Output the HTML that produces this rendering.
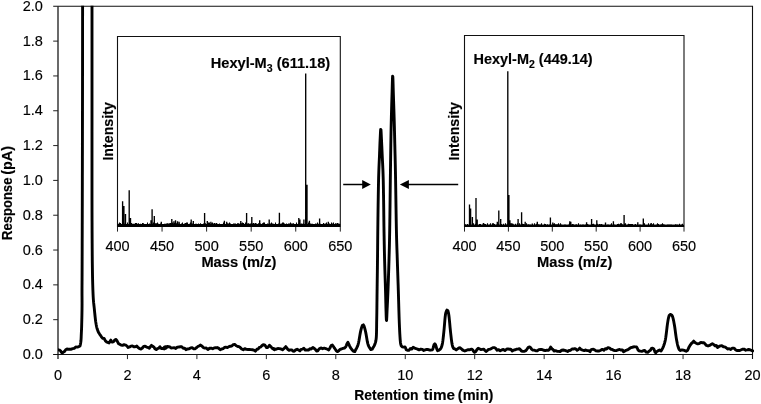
<!DOCTYPE html><html><head><meta charset="utf-8"><title>Chromatogram</title>
<style>html,body{margin:0;padding:0;background:#fff;overflow:hidden}svg{display:block}text{font-family:"Liberation Sans",Arial,sans-serif;fill:#000;stroke:#000;stroke-width:.15px}.b{font-weight:bold}</style></head><body>
<svg width="761" height="404" viewBox="0 0 761 404">
<rect width="761" height="404" fill="#fff"/>
<defs><clipPath id="cp"><rect x="58.0" y="5.8" width="696.0" height="351.2"/></clipPath></defs>
<path d="M53.2 6.3H752.5V359.0" fill="none" stroke="#111" stroke-width="1.1"/>
<path d="M58.0 6.3V359.0" fill="none" stroke="#222" stroke-width="1.35"/>
<path d="M53.1 354.5H752.5" fill="none" stroke="#111" stroke-width="1"/>
<text x="42.8" y="359.00" font-size="14.5" text-anchor="end">0.0</text>
<path d="M53.2 319.68H58.0" stroke="#222" stroke-width="1"/>
<text x="42.8" y="324.18" font-size="14.5" text-anchor="end">0.2</text>
<path d="M53.2 284.86H58.0" stroke="#222" stroke-width="1"/>
<text x="42.8" y="289.36" font-size="14.5" text-anchor="end">0.4</text>
<path d="M53.2 250.04H58.0" stroke="#222" stroke-width="1"/>
<text x="42.8" y="254.54" font-size="14.5" text-anchor="end">0.6</text>
<path d="M53.2 215.22H58.0" stroke="#222" stroke-width="1"/>
<text x="42.8" y="219.72" font-size="14.5" text-anchor="end">0.8</text>
<path d="M53.2 180.40H58.0" stroke="#222" stroke-width="1"/>
<text x="42.8" y="184.90" font-size="14.5" text-anchor="end">1.0</text>
<path d="M53.2 145.58H58.0" stroke="#222" stroke-width="1"/>
<text x="42.8" y="150.08" font-size="14.5" text-anchor="end">1.2</text>
<path d="M53.2 110.76H58.0" stroke="#222" stroke-width="1"/>
<text x="42.8" y="115.26" font-size="14.5" text-anchor="end">1.4</text>
<path d="M53.2 75.94H58.0" stroke="#222" stroke-width="1"/>
<text x="42.8" y="80.44" font-size="14.5" text-anchor="end">1.6</text>
<path d="M53.2 41.12H58.0" stroke="#222" stroke-width="1"/>
<text x="42.8" y="45.62" font-size="14.5" text-anchor="end">1.8</text>
<text x="42.8" y="10.80" font-size="14.5" text-anchor="end">2.0</text>
<text x="58.00" y="379.5" font-size="14.5" text-anchor="middle">0</text>
<path d="M127.45 354.5V359.1" stroke="#222" stroke-width="1"/>
<text x="127.45" y="379.5" font-size="14.5" text-anchor="middle">2</text>
<path d="M196.90 354.5V359.1" stroke="#222" stroke-width="1"/>
<text x="196.90" y="379.5" font-size="14.5" text-anchor="middle">4</text>
<path d="M266.35 354.5V359.1" stroke="#222" stroke-width="1"/>
<text x="266.35" y="379.5" font-size="14.5" text-anchor="middle">6</text>
<path d="M335.80 354.5V359.1" stroke="#222" stroke-width="1"/>
<text x="335.80" y="379.5" font-size="14.5" text-anchor="middle">8</text>
<path d="M405.25 354.5V359.1" stroke="#222" stroke-width="1"/>
<text x="405.25" y="379.5" font-size="14.5" text-anchor="middle">10</text>
<path d="M474.70 354.5V359.1" stroke="#222" stroke-width="1"/>
<text x="474.70" y="379.5" font-size="14.5" text-anchor="middle">12</text>
<path d="M544.15 354.5V359.1" stroke="#222" stroke-width="1"/>
<text x="544.15" y="379.5" font-size="14.5" text-anchor="middle">14</text>
<path d="M613.60 354.5V359.1" stroke="#222" stroke-width="1"/>
<text x="613.60" y="379.5" font-size="14.5" text-anchor="middle">16</text>
<path d="M683.05 354.5V359.1" stroke="#222" stroke-width="1"/>
<text x="683.05" y="379.5" font-size="14.5" text-anchor="middle">18</text>
<text x="752.50" y="379.5" font-size="14.5" text-anchor="middle">20</text>
<text class="b" y="399.9" font-size="14.5"><tspan x="354.3" textLength="64.2" lengthAdjust="spacingAndGlyphs">Retention</tspan> <tspan x="423.6" textLength="31.4" lengthAdjust="spacingAndGlyphs">time</tspan> <tspan x="457.8" textLength="35.6" lengthAdjust="spacingAndGlyphs">(min)</tspan></text>
<text class="b" transform="translate(11.8,240) rotate(-90)" y="0" font-size="14.5"><tspan x="0" textLength="62.4" lengthAdjust="spacingAndGlyphs">Response</tspan> <tspan x="65.2" textLength="29" lengthAdjust="spacingAndGlyphs">(pA)</tspan></text>
<path clip-path="url(#cp)" d="M57.79 349.74L59.36 350.05L60.64 350.88L61.35 352.33L62.40 353.00L63.54 351.96L64.55 351.39L65.69 349.73L66.99 348.97L68.45 349.32L69.91 349.27L71.31 349.18L72.70 348.65L74.19 348.42L75.76 346.94L77.36 347.09L78.92 346.56L79.95 345.97L80.39 344.56L80.70 342.76L80.93 341.05L81.05 339.52L81.15 337.86L81.22 336.12L81.29 334.40L81.37 332.76L81.46 330.88L81.55 329.02L81.61 327.41L81.67 325.41L81.71 323.79L81.76 321.92L81.81 319.86L81.86 317.66L81.91 315.36L81.95 313.02L81.99 310.69L82.02 308.41L82.04 306.24L82.05 304.11L82.05 301.99L82.04 299.88L82.03 297.76L82.01 295.61L82.00 293.41L82.00 291.16L82.00 288.92L82.01 287.13L82.02 285.63L82.03 284.13L82.04 282.36L82.06 280.03L82.06 278.58L82.07 276.88L82.08 274.91L82.09 272.63L82.10 270.00L82.11 267.05L82.12 263.85L82.13 260.40L82.14 256.72L82.16 252.82L82.17 248.73L82.18 244.45L82.19 240.00L82.21 235.39L82.22 230.64L82.23 225.77L82.25 220.78L82.26 215.70L82.27 210.53L82.29 205.29L82.30 200.00L82.31 194.56L82.33 188.89L82.34 183.02L82.35 176.97L82.37 170.76L82.38 164.43L82.39 158.00L82.41 151.50L82.42 144.95L82.43 138.38L82.44 131.81L82.46 125.28L82.47 118.81L82.48 112.42L82.49 106.14L82.50 100.00L82.51 93.85L82.52 87.57L82.52 81.18L82.53 74.72L82.54 68.23L82.54 61.76L82.55 55.34L82.56 49.00L82.56 42.79L82.57 36.74L82.57 30.89L82.58 25.28L82.58 19.95L82.59 14.93L82.59 10.27L82.60 6.00L82.59 2.09L82.55 -1.52L82.49 -4.85L82.41 -7.92L82.32 -10.74L82.23 -13.33L82.15 -15.70L82.08 -17.88L82.02 -19.86L81.99 -21.69L81.99 -23.36L82.03 -24.89L82.25 -27.62L82.70 -30.00L83.49 -31.97L84.60 -33.38L85.92 -34.22L87.36 -34.50L88.79 -34.22L90.11 -33.38L91.22 -31.97L92.00 -30.00L92.45 -27.62L92.65 -24.89L92.69 -23.36L92.68 -21.69L92.64 -19.86L92.58 -17.88L92.50 -15.70L92.41 -13.33L92.31 -10.74L92.22 -7.92L92.13 -4.85L92.06 -1.52L92.02 2.09L92.00 6.00L92.00 10.27L92.00 14.93L92.00 19.95L92.00 25.28L92.00 30.89L92.00 36.74L92.00 42.79L92.00 49.00L92.00 55.34L92.00 61.76L92.00 68.23L92.00 74.72L92.00 81.18L92.00 87.57L92.00 93.85L92.00 100.00L92.00 106.18L92.00 112.55L92.00 119.09L92.00 125.75L91.99 132.49L91.99 139.26L91.99 146.03L91.99 152.75L91.99 159.39L91.99 165.90L91.99 172.24L91.99 178.38L91.99 184.26L91.99 189.85L91.99 195.11L92.00 200.00L92.01 204.54L92.01 208.81L92.02 212.83L92.03 216.60L92.04 220.16L92.06 223.51L92.07 226.68L92.08 229.69L92.09 232.55L92.11 235.28L92.12 237.90L92.14 240.43L92.15 242.89L92.17 245.29L92.18 247.65L92.20 250.00L92.22 252.27L92.23 254.39L92.25 256.38L92.27 258.24L92.28 259.99L92.30 261.65L92.32 263.21L92.34 264.69L92.38 267.46L92.42 270.04L92.46 272.52L92.50 275.00L92.54 277.39L92.59 279.57L92.64 281.58L92.69 283.44L92.74 285.18L92.79 286.84L92.84 288.43L92.90 290.00L92.96 291.51L93.04 293.58L93.13 295.48L93.22 297.24L93.32 298.91L93.44 300.52L93.58 302.21L93.74 303.69L93.95 305.47L94.16 307.32L94.32 308.92L94.51 310.79L94.71 312.86L94.93 315.02L95.16 317.20L95.40 319.30L95.64 321.23L95.89 322.90L96.13 324.34L96.50 326.22L96.88 327.86L97.30 329.32L97.95 331.12L98.76 332.82L99.72 334.33L100.73 335.65L101.72 337.29L102.84 338.35L104.13 338.51L105.41 340.94L106.55 341.93L107.70 342.45L109.03 342.97L109.92 341.50L110.84 340.15L111.68 341.98L112.85 342.01L113.76 341.55L114.56 340.27L115.80 339.39L116.86 340.47L117.73 342.08L118.61 343.69L119.70 344.24L121.05 345.05L122.53 345.35L124.03 344.65L125.52 345.07L126.83 345.88L128.18 347.44L129.63 346.91L130.86 346.13L132.43 345.95L133.80 346.74L135.21 346.74L136.76 346.07L138.25 347.64L139.57 348.69L140.91 349.04L142.38 348.01L143.67 346.39L145.15 346.20L146.56 347.04L147.95 347.44L149.36 348.26L150.35 346.74L151.45 345.38L152.76 346.39L153.87 346.94L154.93 348.82L156.24 349.63L157.68 348.51L158.82 348.07L159.96 346.71L161.24 348.53L162.55 348.48L164.31 348.92L166.01 347.54L167.55 346.55L166.33 347.89L164.62 348.72L163.20 348.37L164.32 347.17L165.82 346.60L167.31 346.84L168.75 346.71L169.81 346.91L171.04 348.01L172.73 347.91L174.30 347.67L175.77 348.52L177.31 347.08L178.75 347.06L180.21 346.77L181.74 346.80L183.20 348.23L184.65 348.10L185.93 349.69L187.60 348.95L189.08 348.84L190.64 347.89L192.15 347.67L193.70 348.83L195.21 348.69L196.74 347.53L197.85 346.51L198.97 345.94L200.54 345.06L202.12 346.22L203.35 347.69L204.83 348.12L206.27 347.91L207.83 349.47L209.59 348.21L211.14 348.11L212.65 348.75L214.16 347.89L215.65 347.72L217.31 347.57L218.80 348.36L220.24 349.74L221.69 348.99L223.13 348.61L224.40 347.52L225.83 347.19L227.40 347.63L228.88 346.61L230.28 346.28L231.75 346.02L233.25 344.64L234.73 344.45L236.25 345.77L237.76 346.45L239.02 346.64L240.22 347.48L241.68 349.05L243.21 349.79L244.74 348.60L246.32 349.38L247.92 349.47L249.44 349.45L250.94 349.61L252.42 349.72L253.90 350.07L255.38 351.23L256.86 349.28L258.09 349.06L259.33 347.43L260.60 347.10L261.83 345.74L263.19 344.81L264.65 344.95L265.95 346.61L266.60 347.63L267.64 347.45L268.49 346.66L269.45 345.17L270.71 346.41L271.71 347.72L272.78 348.80L274.23 349.60L275.81 349.33L276.02 348.88L274.54 349.84L273.07 348.75L273.20 348.45L274.74 348.83L276.31 349.10L277.81 348.50L279.41 348.66L281.04 348.98L282.50 349.76L283.85 348.69L284.74 347.84L285.77 346.61L286.77 347.84L287.65 349.24L289.09 350.25L290.54 349.92L291.92 349.83L292.89 351.04L294.21 351.30L295.65 349.90L297.14 349.29L298.55 350.01L299.91 350.91L301.12 349.43L302.53 349.08L303.91 348.33L305.29 350.12L306.87 350.00L308.45 350.06L309.83 348.79L311.21 349.00L312.81 347.43L314.22 348.47L315.58 349.60L316.55 351.05L317.86 350.79L318.85 349.26L319.87 348.33L321.26 347.98L322.64 348.69L324.23 348.21L325.85 348.64L327.42 349.25L328.70 349.89L329.79 348.29L330.46 346.88L331.14 345.56L332.36 344.98L333.45 346.50L334.34 347.93L335.28 349.26L336.11 350.55L337.39 351.64L338.77 350.80L339.99 349.39L341.41 349.01L342.99 348.34L344.45 348.01L345.71 346.98L346.35 345.47L346.96 343.82L347.91 342.30L348.86 344.40L349.55 345.91L350.26 347.32L351.22 348.72L352.25 350.10L353.42 351.37L354.83 351.52L355.82 349.41L356.70 347.95L357.44 346.40L358.03 344.71L358.48 343.05L358.92 340.86L359.22 339.17L359.51 337.40L359.81 335.62L360.10 333.92L360.40 332.36L360.84 330.45L361.29 328.72L361.73 327.16L362.32 325.56L363.36 324.87L364.10 326.28L364.69 328.18L365.13 329.86L365.57 331.67L365.87 333.13L366.17 334.78L366.46 336.55L366.76 338.35L367.05 340.09L367.35 341.69L367.79 343.66L368.24 345.10L368.83 346.53L369.71 347.91L370.86 349.59L372.17 349.17L373.15 347.50L374.12 345.93L374.85 344.37L375.50 342.41L375.86 340.86L376.12 339.09L376.31 337.11L376.43 334.94L376.51 332.59L376.56 330.07L376.60 327.38L376.63 324.53L376.65 323.06L376.67 321.55L376.70 320.00L376.73 318.40L376.76 316.73L376.79 314.99L376.82 313.20L376.85 311.36L376.87 309.48L376.90 307.57L376.92 305.62L376.94 303.66L376.96 301.69L376.99 299.71L377.01 297.73L377.03 295.77L377.05 293.82L377.08 291.89L377.10 290.00L377.13 288.12L377.15 286.25L377.18 284.38L377.20 282.50L377.23 280.62L377.25 278.75L377.28 276.88L377.31 275.00L377.33 273.12L377.36 271.25L377.38 269.38L377.41 267.50L377.43 265.62L377.45 263.75L377.48 261.88L377.50 260.00L377.52 258.12L377.54 256.25L377.56 254.38L377.58 252.50L377.60 250.62L377.62 248.75L377.63 246.88L377.65 245.00L377.67 243.12L377.68 241.25L377.70 239.38L377.72 237.50L377.74 235.62L377.76 233.75L377.78 231.88L377.80 230.00L377.82 228.12L377.84 226.22L377.87 224.30L377.89 222.38L377.91 220.46L377.94 218.53L377.96 216.61L377.99 214.69L378.01 212.78L378.04 210.88L378.06 209.01L378.09 207.15L378.12 205.32L378.14 203.51L378.17 201.74L378.20 200.00L378.23 198.29L378.26 196.60L378.28 194.93L378.31 193.28L378.34 191.65L378.37 190.04L378.40 188.45L378.42 186.88L378.46 185.32L378.49 183.79L378.52 182.28L378.55 180.78L378.59 179.31L378.62 177.85L378.70 175.00L378.79 172.23L378.88 169.53L378.99 166.91L379.09 164.38L379.20 161.91L379.31 159.53L379.41 157.23L379.50 155.00L379.58 152.86L379.66 150.81L379.74 148.85L379.81 146.96L379.88 145.13L379.95 143.37L380.02 141.66L380.10 140.00L380.18 138.26L380.27 136.39L380.36 134.50L380.44 132.71L380.53 131.12L380.67 129.37L380.98 129.85L381.11 131.88L381.19 133.58L381.28 135.44L381.37 137.33L381.46 139.15L381.54 140.83L381.63 142.51L381.71 144.25L381.80 146.04L381.88 147.89L381.97 149.82L382.06 151.83L382.15 153.92L382.25 156.10L382.36 158.37L382.48 160.71L382.60 163.13L382.72 165.63L382.84 168.21L382.95 170.87L383.05 173.60L383.14 176.42L383.22 179.31L383.26 180.78L383.29 182.28L383.32 183.79L383.35 185.32L383.38 186.88L383.41 188.45L383.44 190.04L383.46 191.65L383.49 193.28L383.52 194.93L383.55 196.60L383.57 198.29L383.60 200.00L383.63 201.74L383.65 203.51L383.68 205.32L383.70 207.15L383.73 209.01L383.75 210.88L383.77 212.78L383.79 214.69L383.82 216.61L383.84 218.53L383.86 220.46L383.89 222.38L383.91 224.30L383.94 226.22L383.97 228.12L384.00 230.00L384.03 231.88L384.06 233.75L384.10 235.62L384.13 237.50L384.16 239.38L384.20 241.25L384.23 243.12L384.27 245.00L384.31 246.88L384.34 248.75L384.38 250.62L384.42 252.50L384.47 254.38L384.51 256.25L384.55 258.12L384.60 260.00L384.65 261.89L384.70 263.82L384.76 265.77L384.81 267.73L384.87 269.71L384.93 271.69L384.99 273.66L385.06 275.62L385.12 277.57L385.18 279.48L385.24 281.36L385.30 283.20L385.35 284.99L385.40 286.73L385.45 288.40L385.50 290.00L385.54 291.54L385.58 293.04L385.62 294.50L385.69 297.29L385.75 299.93L385.80 302.41L385.86 304.75L385.91 306.95L385.97 309.02L386.03 310.97L386.09 312.93L386.15 314.84L386.21 316.62L386.27 318.19L386.37 320.01L386.60 320.43L386.70 318.88L386.81 316.62L386.89 314.84L386.97 312.93L387.05 310.97L387.15 309.02L387.25 306.95L387.36 304.75L387.47 302.41L387.58 299.93L387.70 297.29L387.82 294.50L387.88 293.04L387.94 291.54L388.00 290.00L388.06 288.40L388.12 286.73L388.19 284.99L388.25 283.20L388.32 281.36L388.38 279.48L388.45 277.57L388.51 275.62L388.58 273.66L388.64 271.69L388.71 269.71L388.77 267.73L388.83 265.77L388.89 263.82L388.95 261.89L389.00 260.00L389.05 258.17L389.10 256.42L389.15 254.73L389.20 253.09L389.24 251.46L389.28 249.85L389.33 248.22L389.37 246.56L389.41 244.86L389.45 243.08L389.49 241.22L389.53 239.26L389.57 237.17L389.61 234.95L389.66 232.56L389.70 230.00L389.74 227.21L389.79 224.18L389.83 220.95L389.88 217.54L389.93 213.99L389.97 210.33L390.02 206.59L390.06 202.81L390.11 199.02L390.15 195.26L390.20 191.55L390.24 187.93L390.28 184.43L390.32 181.09L390.36 177.93L390.40 175.00L390.44 172.24L390.47 169.57L390.51 166.99L390.54 164.49L390.57 162.08L390.61 159.75L390.64 157.50L390.67 155.31L390.70 153.20L390.73 151.15L390.76 149.16L390.79 147.23L390.82 145.35L390.84 143.52L390.87 141.74L390.90 140.00L390.93 138.35L390.95 136.82L391.00 134.06L391.04 131.62L391.09 129.38L391.13 127.21L391.18 125.00L391.24 122.64L391.30 120.00L391.37 117.08L391.41 115.54L391.45 113.97L391.50 112.37L391.54 110.75L391.59 109.11L391.63 107.46L391.68 105.82L391.72 104.18L391.77 102.57L391.82 100.97L391.86 99.41L391.91 97.89L391.96 96.42L392.04 93.56L392.09 92.04L392.13 90.46L392.18 88.85L392.22 87.22L392.26 85.61L392.31 84.04L392.35 82.52L392.44 79.79L392.52 77.59L392.61 76.13L392.83 76.76L392.92 78.61L393.00 81.10L393.09 84.04L393.13 85.61L393.17 87.22L393.22 88.85L393.26 90.46L393.31 92.04L393.35 93.56L393.45 96.42L393.50 97.89L393.55 99.41L393.60 100.97L393.65 102.57L393.71 104.18L393.76 105.82L393.81 107.46L393.87 109.11L393.92 110.75L393.97 112.37L394.02 113.97L394.07 115.54L394.11 117.08L394.16 118.56L394.24 121.36L394.31 123.85L394.37 126.12L394.42 128.29L394.48 130.48L394.53 132.81L394.59 135.39L394.66 138.35L394.70 140.00L394.74 141.74L394.78 143.52L394.83 145.35L394.88 147.23L394.92 149.16L394.97 151.15L395.02 153.20L395.08 155.31L395.13 157.50L395.18 159.75L395.23 162.08L395.29 164.49L395.34 166.99L395.39 169.57L395.45 172.24L395.50 175.00L395.55 177.93L395.61 181.09L395.66 184.43L395.72 187.93L395.77 191.55L395.83 195.26L395.89 199.02L395.94 202.81L396.00 206.59L396.06 210.33L396.12 213.99L396.17 217.54L396.23 220.95L396.29 224.18L396.34 227.21L396.40 230.00L396.46 232.56L396.51 234.95L396.57 237.17L396.62 239.26L396.68 241.22L396.73 243.08L396.79 244.86L396.84 246.56L396.90 248.22L396.96 249.85L397.01 251.46L397.07 253.09L397.13 254.73L397.18 256.42L397.24 258.17L397.30 260.00L397.36 261.88L397.42 263.75L397.48 265.62L397.55 267.50L397.61 269.38L397.67 271.25L397.74 273.12L397.80 275.00L397.86 276.88L397.93 278.75L397.99 280.62L398.05 282.50L398.12 284.38L398.18 286.25L398.24 288.12L398.30 290.00L398.36 291.90L398.42 293.84L398.48 295.81L398.53 297.80L398.59 299.81L398.65 301.82L398.71 303.82L398.76 305.81L398.82 307.77L398.87 309.70L398.93 311.59L398.98 313.41L399.04 315.18L399.09 316.87L399.15 318.48L399.20 320.00L399.30 322.81L399.41 325.39L399.51 327.74L399.61 329.91L399.70 331.89L399.80 333.72L399.90 335.42L400.00 337.00L400.14 339.06L400.27 340.72L400.44 342.46L400.73 344.18L401.21 345.79L402.13 346.82L403.59 347.17L404.99 346.88L405.66 348.23L406.23 349.67L407.42 350.33L408.83 350.42L410.31 348.57L411.70 349.00L413.10 347.33L414.72 348.11L416.11 348.66L417.51 349.07L419.13 349.85L420.75 349.16L422.38 349.43L423.77 350.48L425.16 349.95L426.65 349.47L428.16 349.49L429.55 350.06L430.66 350.18L432.10 349.94L432.83 349.12L433.23 347.63L433.60 346.11L434.10 344.54L434.84 343.89L435.59 344.76L435.99 346.26L436.46 347.78L436.85 349.22L437.57 350.71L439.05 350.18L440.25 349.21L441.09 347.93L441.72 346.43L442.19 344.69L442.52 342.97L442.84 340.89L443.03 339.34L443.23 337.69L443.41 335.98L443.60 334.22L443.79 332.43L443.97 330.63L444.16 328.63L444.34 326.49L444.52 324.29L444.70 322.10L444.87 320.02L445.05 318.11L445.22 316.47L445.47 314.60L445.79 312.89L446.26 311.41L446.91 310.04L447.89 310.77L448.35 312.33L448.67 314.02L448.93 315.77L449.11 317.28L449.30 319.07L449.50 321.08L449.70 323.22L449.90 325.41L450.10 327.58L450.31 329.65L450.50 331.55L450.70 333.33L450.90 335.13L451.10 336.89L451.29 338.59L451.49 340.21L451.69 341.69L451.98 343.62L452.27 345.09L452.69 346.62L453.52 348.53L454.73 348.79L456.20 349.92L457.62 348.82L458.84 347.96L460.14 347.78L461.40 348.80L462.45 349.89L463.42 350.36L464.81 350.97L466.30 350.35L467.71 349.77L469.14 349.80L470.47 349.48L471.80 349.10L472.69 349.78L473.42 351.21L474.61 352.34L475.79 351.58L476.97 349.46L478.16 348.33L479.64 348.85L480.82 349.64L482.30 349.33L483.63 349.08L484.76 350.31L485.99 351.45L487.32 350.61L488.55 349.35L489.94 349.23L491.32 348.62L492.88 347.62L494.22 347.64L495.68 348.29L497.17 350.25L498.70 349.63L500.24 350.73L501.79 349.95L503.34 349.46L504.92 350.55L506.50 349.25L507.88 348.85L509.44 349.27L510.78 349.31L512.25 350.99L513.73 350.12L515.26 349.78L516.82 349.08L518.03 349.14L519.44 348.61L520.44 349.77L521.48 350.98L523.01 351.33L524.44 351.33L525.85 350.60L527.06 349.01L528.28 347.29L529.58 346.88L530.87 347.86L531.58 349.20L532.52 349.99L534.05 350.15L535.68 350.75L537.26 350.84L538.83 349.68L540.41 349.49L541.99 349.45L543.60 350.30L545.06 350.48L543.88 350.36L545.35 350.66L546.84 350.17L548.32 350.36L549.51 349.31L550.65 347.08L552.03 348.94L553.01 349.55L554.00 350.99L555.38 350.65L556.96 351.20L558.50 351.37L560.07 351.50L561.71 350.23L563.25 349.99L564.87 350.30L566.21 350.78L567.60 351.46L569.06 350.50L570.60 350.27L571.98 349.04L573.22 349.03L574.70 348.58L575.93 349.13L577.07 350.37L578.29 349.61L579.64 348.15L581.05 349.51L582.61 350.20L584.14 350.52L585.70 350.00L587.32 350.59L588.60 350.62L589.97 351.72L590.96 349.82L592.05 349.43L593.38 349.30L594.60 349.86L595.99 350.85L597.57 350.95L599.15 351.07L600.73 350.30L602.30 349.35L603.88 350.34L605.26 348.77L606.64 349.02L608.02 347.60L609.65 348.10L611.15 349.42L612.30 349.54L613.52 350.29L615.13 350.62L616.67 350.44L618.09 349.92L619.62 349.48L621.06 350.04L622.51 350.01L623.53 351.84L624.83 351.03L626.01 350.31L627.36 349.94L628.86 349.06L629.91 348.23L630.95 347.55L632.39 347.26L633.81 346.82L635.26 346.85L636.55 346.95L637.30 348.27L638.01 349.88L638.88 350.76L640.35 351.16L641.82 351.36L643.19 350.76L644.70 350.36L646.12 352.17L647.72 352.34L649.11 351.15L650.40 350.26L651.45 348.46L652.61 348.10L653.74 348.93L654.41 350.35L654.88 351.78L655.74 352.85L656.69 351.68L657.91 350.84L659.54 350.01L661.05 350.95L662.09 349.18L662.94 347.65L663.53 346.25L664.13 344.62L664.58 343.18L665.02 341.47L665.45 339.43L665.72 337.78L665.99 335.86L666.26 333.75L666.52 331.55L666.78 329.34L667.03 327.23L667.27 325.31L667.50 323.66L667.82 321.60L668.12 319.83L668.41 318.34L668.79 316.73L669.27 315.28L670.34 314.45L671.70 315.03L672.55 316.56L673.02 318.14L673.37 319.60L673.72 321.29L674.07 323.17L674.44 325.24L674.69 326.78L674.94 328.53L675.20 330.40L675.45 332.33L675.71 334.27L675.97 336.14L676.23 337.88L676.49 339.43L676.88 341.49L677.26 343.37L677.65 345.05L678.04 346.51L678.54 348.11L679.22 349.60L680.43 350.50L681.93 349.89L683.47 350.18L684.81 350.62L686.15 351.28L687.41 350.59L688.13 349.14L688.82 347.55L689.55 346.25L690.44 344.79L691.33 343.54L692.36 342.78L693.69 341.16L694.97 342.58L696.21 343.25L697.68 343.92L699.14 343.56L700.82 342.43L702.35 342.71L703.94 342.62L705.12 343.95L706.46 345.43L708.03 346.00L709.61 345.39L710.99 344.57L712.37 343.73L713.78 344.62L715.19 345.92L716.40 345.52L717.52 347.45L719.02 346.44L720.43 345.92L721.84 345.65L723.41 346.76L724.79 346.83L726.17 347.77L727.55 349.00L729.13 348.63L730.71 349.58L732.12 348.17L733.52 348.12L734.83 348.77L735.65 350.04L736.78 350.52L738.31 350.34L739.81 350.46L741.29 349.76L742.82 349.12L744.37 349.27L745.72 350.19L747.27 349.91L748.67 349.49L750.22 349.94L751.64 350.49L752.67 350.79" fill="none" stroke="#000" stroke-width="2.9" stroke-linejoin="round" stroke-linecap="round"/>
<path d="M117.5 226.9V36.5H340.3V226.9" fill="#fff" stroke="#111" stroke-width="1.1"/>
<path d="M117.5 225.45H340.3" stroke="#000" stroke-width="2.9"/>
<path d="M118.5 224.3v-0.5M119.5 224.3v-1.9M120.5 224.3v-1.4M121.5 224.3v-0.3M122.5 224.3v-0.9M123.5 224.3v-1.9M124.5 224.3v-0.6M125.5 224.3v-1.9M126.5 224.3v-0.3M127.5 224.3v-1.9M128.5 224.3v-0.3M129.5 224.3v-0.6M130.5 224.3v-0.7M131.5 224.3v-1.4M132.5 224.3v-0.5M133.5 224.3v-0.5M134.5 224.3v-0.6M135.5 224.3v-1.4M136.5 224.3v-1.4M137.5 224.3v-0.6M138.5 224.3v-1.1M139.5 224.3v-0.3M140.5 224.3v-0.5M141.5 224.3v-0.3M142.5 224.3v-1.4M143.5 224.3v-1.1M144.5 224.3v-0.3M145.5 224.3v-0.3M146.5 224.3v-0.3M147.5 224.3v-1.9M148.5 224.3v-0.3M149.5 224.3v-0.7M150.5 224.3v-0.3M151.5 224.3v-0.7M152.5 224.3v-0.6M153.5 224.3v-1.9M154.5 224.3v-1.1M155.5 224.3v-1.1M156.5 224.3v-1.1M157.5 224.3v-1.9M158.5 224.3v-0.6M159.5 224.3v-0.3M160.5 224.3v-0.9M161.5 224.3v-0.3M162.5 224.3v-0.3M163.5 224.3v-0.3M164.5 224.3v-0.6M165.5 224.3v-0.5M166.5 224.3v-0.7M167.5 224.3v-1.1M168.5 224.3v-0.7M169.5 224.3v-1.1M170.5 224.3v-1.4M171.5 224.3v-1.1M172.5 224.3v-1.9M173.5 224.3v-0.9M174.5 224.3v-1.4M175.5 224.3v-1.9M176.5 224.3v-1.1M177.5 224.3v-1.9M178.5 224.3v-0.5M179.5 224.3v-0.9M180.5 224.3v-0.3M181.5 224.3v-0.7M182.5 224.3v-1.9M183.5 224.3v-0.3M184.5 224.3v-0.9M185.5 224.3v-1.4M186.5 224.3v-1.9M187.5 224.3v-1.9M188.5 224.3v-0.3M189.5 224.3v-0.5M190.5 224.3v-1.9M191.5 224.3v-0.7M192.5 224.3v-0.7M193.5 224.3v-0.3M194.5 224.3v-0.3M195.5 224.3v-0.6M196.5 224.3v-0.6M197.5 224.3v-0.3M198.5 224.3v-0.9M199.5 224.3v-0.3M200.5 224.3v-1.1M201.5 224.3v-0.3M202.5 224.3v-0.3M203.5 224.3v-0.7M204.5 224.3v-1.1M205.5 224.3v-1.1M206.5 224.3v-0.3M207.5 224.3v-0.3M208.5 224.3v-1.9M209.5 224.3v-1.9M210.5 224.3v-0.3M211.5 224.3v-1.1M212.5 224.3v-1.9M213.5 224.3v-0.9M214.5 224.3v-1.4M215.5 224.3v-0.7M216.5 224.3v-1.4M217.5 224.3v-0.5M218.5 224.3v-0.3M219.5 224.3v-0.7M220.5 224.3v-0.3M221.5 224.3v-0.3M222.5 224.3v-0.3M223.5 224.3v-1.9M224.5 224.3v-1.4M225.5 224.3v-0.3M226.5 224.3v-0.5M227.5 224.3v-1.1M228.5 224.3v-0.7M229.5 224.3v-1.9M230.5 224.3v-0.7M231.5 224.3v-0.3M232.5 224.3v-0.3M233.5 224.3v-0.9M234.5 224.3v-0.9M235.5 224.3v-0.9M236.5 224.3v-0.3M237.5 224.3v-1.1M238.5 224.3v-1.1M239.5 224.3v-0.6M240.5 224.3v-1.4M241.5 224.3v-1.1M242.5 224.3v-1.9M243.5 224.3v-1.4M244.5 224.3v-0.3M245.5 224.3v-1.9M246.5 224.3v-1.4M247.5 224.3v-0.7M248.5 224.3v-1.1M249.5 224.3v-0.5M250.5 224.3v-0.7M251.5 224.3v-1.1M252.5 224.3v-0.7M253.5 224.3v-1.4M254.5 224.3v-0.7M255.5 224.3v-1.4M256.5 224.3v-0.9M257.5 224.3v-0.3M258.5 224.3v-1.1M259.5 224.3v-1.9M260.5 224.3v-0.9M261.5 224.3v-0.3M262.5 224.3v-1.1M263.5 224.3v-1.9M264.5 224.3v-1.9M265.5 224.3v-0.3M266.5 224.3v-0.3M267.5 224.3v-0.9M268.5 224.3v-0.6M269.5 224.3v-0.9M270.5 224.3v-0.9M271.5 224.3v-1.9M272.5 224.3v-0.7M273.5 224.3v-0.6M274.5 224.3v-0.3M275.5 224.3v-1.9M276.5 224.3v-0.3M277.5 224.3v-0.3M278.5 224.3v-0.9M279.5 224.3v-0.7M280.5 224.3v-0.6M281.5 224.3v-0.7M282.5 224.3v-1.9M283.5 224.3v-1.9M284.5 224.3v-0.9M285.5 224.3v-0.3M286.5 224.3v-0.9M287.5 224.3v-0.3M288.5 224.3v-0.9M289.5 224.3v-0.9M290.5 224.3v-1.9M291.5 224.3v-0.7M292.5 224.3v-0.7M293.5 224.3v-1.1M294.5 224.3v-0.3M295.5 224.3v-0.3M296.5 224.3v-1.9M297.5 224.3v-0.3M298.5 224.3v-0.7M299.5 224.3v-1.4M300.5 224.3v-0.5M301.5 224.3v-0.7M302.5 224.3v-0.5M303.5 224.3v-0.9M304.5 224.3v-0.3M305.5 224.3v-1.1M306.5 224.3v-0.3M307.5 224.3v-0.3M308.5 224.3v-1.9M309.5 224.3v-0.9M310.5 224.3v-0.9M311.5 224.3v-0.5M312.5 224.3v-0.6M313.5 224.3v-0.3M314.5 224.3v-0.3M315.5 224.3v-0.9M316.5 224.3v-0.5M317.5 224.3v-1.9M318.5 224.3v-0.6M319.5 224.3v-0.7M320.5 224.3v-0.5M321.5 224.3v-0.3M322.5 224.3v-0.3M323.5 224.3v-1.4M324.5 224.3v-0.5M325.5 224.3v-0.9M326.5 224.3v-1.9M327.5 224.3v-0.3M328.5 224.3v-0.7M329.5 224.3v-0.9M330.5 224.3v-0.3M331.5 224.3v-1.9M332.5 224.3v-0.9M333.5 224.3v-1.9M334.5 224.3v-0.3M335.5 224.3v-1.1M336.5 224.3v-0.7M337.5 224.3v-1.4M338.5 224.3v-0.7M339.5 224.3v-0.6" stroke="#000" stroke-width="1.1" fill="none"/>
<path d="M122.6 225.9V201.3M123.9 225.9V206.0M125.5 225.9V213.9M129.2 225.9V190.3M130.5 225.9V217.9M152.1 225.9V209.2M154.3 225.9V216.0M151.0 225.9V220.2M161.3 225.9V221.8M171.8 225.9V219.1M173.9 225.9V221.3M175.5 225.9V220.2M177.5 225.9V221.3M179.1 225.9V221.8M191.2 225.9V219.4M193.3 225.9V221.0M204.6 225.9V213.1M207.3 225.9V221.0M210.9 225.9V221.8M224.4 225.9V220.7M226.7 225.9V221.8M246.6 225.9V213.1M251.8 225.9V217.1M240.8 225.9V221.0M259.7 225.9V220.2M269.2 225.9V219.4M279.4 225.9V212.8M298.8 225.9V217.9M299.9 225.9V219.4M303.9 225.9V219.4M319.6 225.9V218.6M309.4 225.9V220.7M328.3 225.9V221.8M305.7 225.9V73.5M307.0 225.9V184.7" stroke="#000" stroke-width="1.35" fill="none"/>
<path d="M117.50 226.9V231.6" stroke="#222" stroke-width="1"/>
<text x="117.50" y="251.2" font-size="14.5" text-anchor="middle">400</text>
<path d="M162.06 226.9V231.6" stroke="#222" stroke-width="1"/>
<text x="162.06" y="251.2" font-size="14.5" text-anchor="middle">450</text>
<path d="M206.62 226.9V231.6" stroke="#222" stroke-width="1"/>
<text x="206.62" y="251.2" font-size="14.5" text-anchor="middle">500</text>
<path d="M251.18 226.9V231.6" stroke="#222" stroke-width="1"/>
<text x="251.18" y="251.2" font-size="14.5" text-anchor="middle">550</text>
<path d="M295.74 226.9V231.6" stroke="#222" stroke-width="1"/>
<text x="295.74" y="251.2" font-size="14.5" text-anchor="middle">600</text>
<path d="M340.30 226.9V231.6" stroke="#222" stroke-width="1"/>
<text x="340.30" y="251.2" font-size="14.5" text-anchor="middle">650</text>
<text class="b" x="201.4" y="267.3" font-size="14.5" textLength="75.0" lengthAdjust="spacingAndGlyphs">Mass (m/z)</text>
<text class="b" transform="translate(113.2,160.6) rotate(-90)" font-size="14.5" textLength="58.4" lengthAdjust="spacingAndGlyphs">Intensity</text>
<text class="b" x="210.8" y="68.2" font-size="14.5" textLength="119.4" lengthAdjust="spacingAndGlyphs">Hexyl-M<tspan font-size="10.5" dy="3.6">3</tspan><tspan dy="-3.6"> (611.18)</tspan></text>
<path d="M464.5 226.9V35.5H684.0V226.9" fill="#fff" stroke="#111" stroke-width="1.1"/>
<path d="M464.5 225.85H684.0" stroke="#000" stroke-width="2.1"/>
<path d="M465.5 225.1v-0.9M466.5 225.1v-0.3M467.5 225.1v-1.1M468.5 225.1v-0.3M469.5 225.1v-0.3M470.5 225.1v-1.4M471.5 225.1v-0.3M472.5 225.1v-0.9M473.5 225.1v-1.9M474.5 225.1v-0.3M475.5 225.1v-1.4M476.5 225.1v-0.5M477.5 225.1v-0.3M478.5 225.1v-0.3M479.5 225.1v-1.1M480.5 225.1v-1.1M481.5 225.1v-0.3M482.5 225.1v-0.5M483.5 225.1v-0.3M484.5 225.1v-1.4M485.5 225.1v-1.1M486.5 225.1v-0.3M487.5 225.1v-1.9M488.5 225.1v-0.3M489.5 225.1v-0.5M490.5 225.1v-1.9M491.5 225.1v-0.3M492.5 225.1v-1.9M493.5 225.1v-1.9M494.5 225.1v-1.1M495.5 225.1v-0.3M496.5 225.1v-0.5M497.5 225.1v-0.3M498.5 225.1v-1.4M499.5 225.1v-0.3M500.5 225.1v-0.7M501.5 225.1v-1.1M502.5 225.1v-0.3M503.5 225.1v-1.4M504.5 225.1v-0.3M505.5 225.1v-1.9M506.5 225.1v-0.7M507.5 225.1v-1.4M508.5 225.1v-0.3M509.5 225.1v-0.3M510.5 225.1v-1.9M511.5 225.1v-1.9M512.5 225.1v-0.5M513.5 225.1v-0.9M514.5 225.1v-0.3M515.5 225.1v-1.4M516.5 225.1v-0.3M517.5 225.1v-1.9M518.5 225.1v-0.3M519.5 225.1v-1.9M520.5 225.1v-0.5M521.5 225.1v-0.6M522.5 225.1v-1.4M523.5 225.1v-1.1M524.5 225.1v-0.9M525.5 225.1v-0.6M526.5 225.1v-1.9M527.5 225.1v-0.6M528.5 225.1v-0.9M529.5 225.1v-0.7M530.5 225.1v-0.5M531.5 225.1v-0.3M532.5 225.1v-0.5M533.5 225.1v-0.3M534.5 225.1v-1.9M535.5 225.1v-0.7M536.5 225.1v-1.4M537.5 225.1v-0.6M538.5 225.1v-0.9M539.5 225.1v-0.6M540.5 225.1v-0.7M541.5 225.1v-1.9M542.5 225.1v-0.3M543.5 225.1v-0.3M544.5 225.1v-1.4M545.5 225.1v-1.1M546.5 225.1v-0.3M547.5 225.1v-0.9M548.5 225.1v-0.3M549.5 225.1v-0.6M550.5 225.1v-1.1M551.5 225.1v-0.3M552.5 225.1v-0.3M553.5 225.1v-1.4M554.5 225.1v-1.9M555.5 225.1v-0.9M556.5 225.1v-0.9M557.5 225.1v-0.9M558.5 225.1v-1.9M559.5 225.1v-0.6M560.5 225.1v-1.9M561.5 225.1v-0.6M562.5 225.1v-0.3M563.5 225.1v-0.3M564.5 225.1v-0.7M565.5 225.1v-0.6M566.5 225.1v-0.3M567.5 225.1v-0.3M568.5 225.1v-0.7M569.5 225.1v-1.9M570.5 225.1v-0.6M571.5 225.1v-0.7M572.5 225.1v-1.1M573.5 225.1v-0.9M574.5 225.1v-0.3M575.5 225.1v-0.6M576.5 225.1v-0.9M577.5 225.1v-0.3M578.5 225.1v-1.9M579.5 225.1v-0.3M580.5 225.1v-0.6M581.5 225.1v-0.3M582.5 225.1v-0.5M583.5 225.1v-0.7M584.5 225.1v-0.3M585.5 225.1v-0.5M586.5 225.1v-1.1M587.5 225.1v-1.1M588.5 225.1v-0.6M589.5 225.1v-0.3M590.5 225.1v-0.3M591.5 225.1v-0.6M592.5 225.1v-1.1M593.5 225.1v-1.4M594.5 225.1v-0.7M595.5 225.1v-0.3M596.5 225.1v-1.1M597.5 225.1v-1.4M598.5 225.1v-0.7M599.5 225.1v-1.1M600.5 225.1v-0.9M601.5 225.1v-1.1M602.5 225.1v-0.5M603.5 225.1v-0.3M604.5 225.1v-0.3M605.5 225.1v-0.3M606.5 225.1v-0.3M607.5 225.1v-0.5M608.5 225.1v-0.5M609.5 225.1v-0.3M610.5 225.1v-0.6M611.5 225.1v-1.9M612.5 225.1v-0.3M613.5 225.1v-0.7M614.5 225.1v-0.7M615.5 225.1v-0.3M616.5 225.1v-0.3M617.5 225.1v-1.1M618.5 225.1v-1.4M619.5 225.1v-0.9M620.5 225.1v-1.9M621.5 225.1v-1.9M622.5 225.1v-0.9M623.5 225.1v-0.3M624.5 225.1v-1.4M625.5 225.1v-1.9M626.5 225.1v-0.3M627.5 225.1v-0.6M628.5 225.1v-1.4M629.5 225.1v-1.1M630.5 225.1v-1.1M631.5 225.1v-1.1M632.5 225.1v-1.1M633.5 225.1v-0.3M634.5 225.1v-0.6M635.5 225.1v-1.1M636.5 225.1v-0.3M637.5 225.1v-0.5M638.5 225.1v-0.3M639.5 225.1v-0.5M640.5 225.1v-0.6M641.5 225.1v-0.3M642.5 225.1v-0.3M643.5 225.1v-0.9M644.5 225.1v-1.9M645.5 225.1v-0.3M646.5 225.1v-0.3M647.5 225.1v-0.3M648.5 225.1v-1.9M649.5 225.1v-0.3M650.5 225.1v-1.4M651.5 225.1v-0.3M652.5 225.1v-0.9M653.5 225.1v-1.9M654.5 225.1v-0.3M655.5 225.1v-0.3M656.5 225.1v-0.5M657.5 225.1v-1.9M658.5 225.1v-1.1M659.5 225.1v-0.3M660.5 225.1v-0.7M661.5 225.1v-0.9M662.5 225.1v-1.9M663.5 225.1v-0.9M664.5 225.1v-0.6M665.5 225.1v-0.3M666.5 225.1v-0.3M667.5 225.1v-0.6M668.5 225.1v-0.6M669.5 225.1v-0.6M670.5 225.1v-0.6M671.5 225.1v-0.7M672.5 225.1v-0.3M673.5 225.1v-0.3M674.5 225.1v-0.3M675.5 225.1v-0.9M676.5 225.1v-0.7M677.5 225.1v-0.6M678.5 225.1v-0.3M679.5 225.1v-1.4M680.5 225.1v-0.3M681.5 225.1v-0.5M682.5 225.1v-1.4" stroke="#000" stroke-width="1.1" fill="none"/>
<path d="M469.5 225.9V204.4M470.6 225.9V208.4M472.4 225.9V217.1M476.0 225.9V198.1M477.2 225.9V219.4M498.8 225.9V210.4M500.7 225.9V219.1M497.3 225.9V221.8M509.9 225.9V220.2M518.1 225.9V219.1M521.6 225.9V212.3M525.2 225.9V221.8M537.3 225.9V221.8M550.4 225.9V217.5M552.8 225.9V222.6M569.8 225.9V221.3M483.4 225.9V222.9M512.6 225.9V223.4M532.3 225.9V223.4M591.6 225.9V219.1M596.8 225.9V220.2M586.6 225.9V222.3M605.5 225.9V222.6M613.4 225.9V221.3M624.1 225.9V215.0M643.3 225.9V218.6M637.8 225.9V222.3M651.2 225.9V222.9M570.8 225.9V221.8M507.8 225.9V71.3M508.9 225.9V195.0" stroke="#000" stroke-width="1.35" fill="none"/>
<path d="M464.50 226.9V231.6" stroke="#222" stroke-width="1"/>
<text x="464.50" y="251.2" font-size="14.5" text-anchor="middle">400</text>
<path d="M508.40 226.9V231.6" stroke="#222" stroke-width="1"/>
<text x="508.40" y="251.2" font-size="14.5" text-anchor="middle">450</text>
<path d="M552.30 226.9V231.6" stroke="#222" stroke-width="1"/>
<text x="552.30" y="251.2" font-size="14.5" text-anchor="middle">500</text>
<path d="M596.20 226.9V231.6" stroke="#222" stroke-width="1"/>
<text x="596.20" y="251.2" font-size="14.5" text-anchor="middle">550</text>
<path d="M640.10 226.9V231.6" stroke="#222" stroke-width="1"/>
<text x="640.10" y="251.2" font-size="14.5" text-anchor="middle">600</text>
<path d="M684.00 226.9V231.6" stroke="#222" stroke-width="1"/>
<text x="684.00" y="251.2" font-size="14.5" text-anchor="middle">650</text>
<text class="b" x="537.1" y="267.3" font-size="14.5" textLength="75.2" lengthAdjust="spacingAndGlyphs">Mass (m/z)</text>
<text class="b" transform="translate(458.8,160.6) rotate(-90)" font-size="14.5" textLength="58.4" lengthAdjust="spacingAndGlyphs">Intensity</text>
<text class="b" x="473.5" y="64.3" font-size="14.5" textLength="119.2" lengthAdjust="spacingAndGlyphs">Hexyl-M<tspan font-size="10.5" dy="3.6">2</tspan><tspan dy="-3.6"> (449.14)</tspan></text>
<path d="M343.2 184.5H364" stroke="#000" stroke-width="1.5"/><path d="M370.8 184.5L362.2 179.9V189.1Z" fill="#000"/>
<path d="M458.2 184.5H407" stroke="#000" stroke-width="1.5"/><path d="M399.9 184.5L408.9 179.9V189.1Z" fill="#000"/>
</svg></body></html>
